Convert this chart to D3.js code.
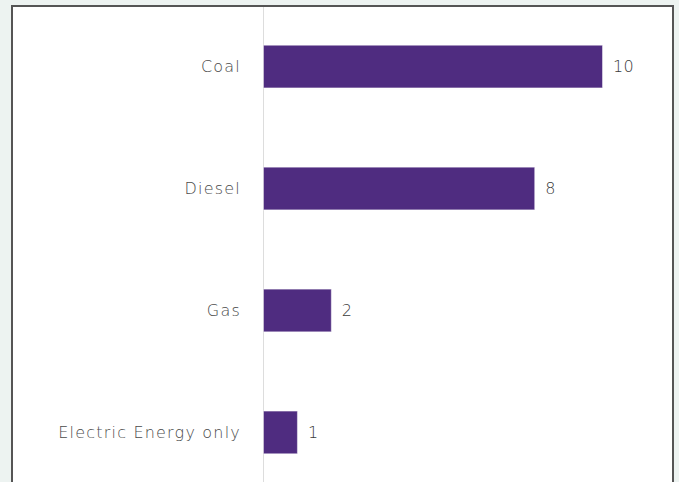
<!DOCTYPE html>
<html>
<head>
<meta charset="utf-8">
<script src="https://cdn.jsdelivr.net/npm/d3@7"></script>
<style>
  html, body { margin: 0; padding: 0; background: #edf3f1; }
  svg { display: block; }
  text { font-family: "DejaVu Sans", "Open Sans", sans-serif; font-weight: 200; }
</style>
</head>
<body>
<svg id="chart" width="679" height="482"></svg>
<script>
// Fuel types and their counts
const categories = ["Coal", "Diesel", "Gas", "Electric Energy only"];
const values = [10, 8, 2, 1];

const W = 679, H = 482;
const svg = d3.select("#chart");

// White panel with dark frame (open at the bottom edge)
svg.append("rect")
  .attr("x", 12).attr("y", 6)
  .attr("width", 661).attr("height", H + 10)
  .attr("fill", "#ffffff")
  .attr("stroke", "#555555")
  .attr("stroke-width", 2);

const x0 = 263;
const x = d3.scaleLinear().domain([0, 10]).range([x0, 602]);
const y = d3.scaleBand()
  .domain(categories)
  .range([5, 494])
  .paddingInner(0.65)
  .paddingOuter(0.33);

// Baseline
svg.append("line")
  .attr("x1", x0 + 0.5).attr("x2", x0 + 0.5)
  .attr("y1", 7).attr("y2", H)
  .attr("stroke", "#dddddd")
  .attr("stroke-width", 1);

const data = categories.map((c, i) => ({ c, v: values[i] }));

svg.append("g").selectAll("rect")
  .data(data)
  .join("rect")
  .attr("x", x(0) + 0.5)
  .attr("y", d => y(d.c))
  .attr("width", d => x(d.v) - x(0))
  .attr("height", y.bandwidth())
  .attr("fill", "#4f2c80")
  .attr("stroke", "#ffffff")
  .attr("stroke-opacity", 0.45)
  .attr("stroke-width", 1);

// Category labels
svg.append("g").selectAll("text")
  .data(data)
  .join("text")
  .attr("x", 241)
  .attr("y", d => y(d.c) + y.bandwidth() / 2)
  .attr("dy", "0.35em")
  .attr("text-anchor", "end")
  .attr("fill", "#4a4a4a")
  .attr("font-size", 16)
  .attr("letter-spacing", "1.2px")
  .text(d => d.c);

// Value labels
svg.append("g").selectAll("text")
  .data(data)
  .join("text")
  .attr("x", d => x(d.v) + 11)
  .attr("y", d => y(d.c) + y.bandwidth() / 2)
  .attr("dy", "0.35em")
  .attr("fill", "#3a3a3a")
  .attr("font-size", 16)
  .attr("letter-spacing", "0.3px")
  .text(d => d.v);
</script>
</body>
</html>
